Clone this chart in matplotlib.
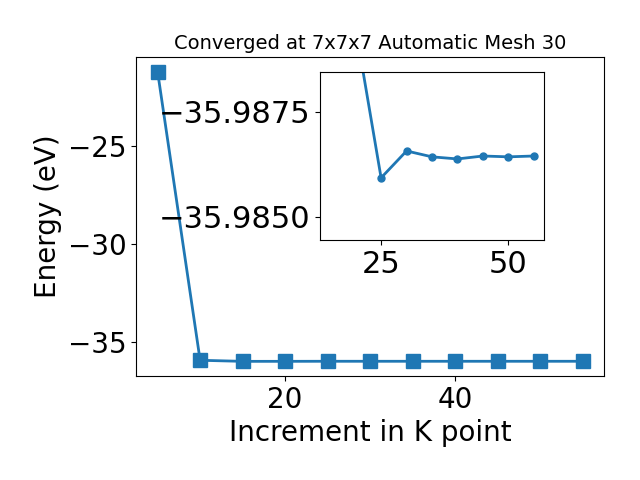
import matplotlib
matplotlib.use('Agg')
import matplotlib.pyplot as plt

# --- Data ---
kpoints = [5, 10, 15, 20, 25, 30, 35, 40, 45, 50, 55]
energy = [-21.22, -35.935, -35.9902, -35.9895, -35.98593, -35.98657,
          -35.98643, -35.98638, -35.98645, -35.98643, -35.98645]

fig = plt.figure(figsize=(6.4, 4.8), dpi=100)
ax = fig.add_axes([0.213, 0.217, 0.731, 0.664])
ax.plot(kpoints, energy, marker='s', markersize=10, linewidth=2)
ax.set_xlabel("Increment in K point", fontsize=20)
ax.set_ylabel("Energy (eV)", fontsize=20)
ax.tick_params(labelsize=20)
ax.set_title("Converged at 7x7x7 Automatic Mesh 30", fontsize=14)

# --- Inset zoom ---
ins = fig.add_axes([0.5, 0.5, 0.35, 0.35])
ins.plot(kpoints[2:], energy[2:], marker='o', markersize=5, linewidth=2)
ins.set_ylim(-35.98445, -35.98845)
ins.set_yticks([-35.9875, -35.9850])
ins.ticklabel_format(axis='y', useOffset=False)
ins.tick_params(labelsize=22)

fig.savefig('out.png')
